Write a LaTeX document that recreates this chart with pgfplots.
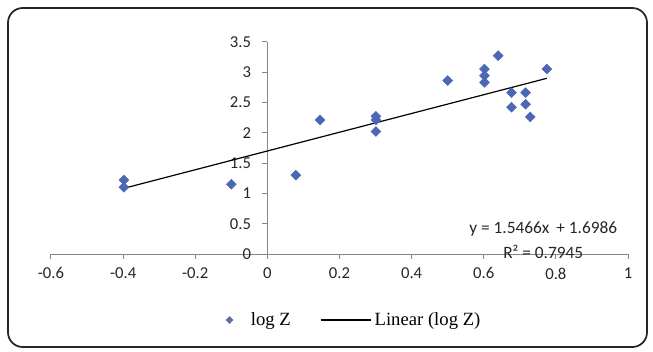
\documentclass[border=0pt]{standalone}
\usepackage{pgfplots}
\pgfplotsset{compat=1.18}
\usepackage{fontspec}
\setmainfont{Liberation Serif}
\newfontfamily\calfont{Carlito}
\definecolor{ptcol}{RGB}{76,104,180}
\definecolor{axgray}{RGB}{134,134,134}
\begin{document}
\begin{tikzpicture}
\path[use as bounding box] (0pt,0pt) rectangle (489.75pt,263.25pt);
\draw[line width=1.3pt, rounded corners=11pt, black!85] (6pt,3pt) rectangle (485.25pt,257.25pt);
\begin{axis}[
  at={(38.25pt,72.75pt)}, anchor=south west,
  scale only axis, width=432.75pt, height=159.2pt,
  xmin=-0.6, xmax=1, ymin=0, ymax=3.5,
  axis lines=middle,
  axis line style={-, axgray, line width=0.75pt},
  hide obscured x ticks=false, hide obscured y ticks=false,
  xtick={-0.6,-0.4,-0.2,0,0.2,0.4,0.6,0.8,1},
  ytick={0,0.5,1,1.5,2,2.5,3,3.5},
  tick align=outside,
  major tick length=3.75pt,
  tick style={axgray, line width=0.75pt},
  /pgf/number format/assume math mode=true,
  ticklabel style={font=\calfont\fontsize{12.5}{14}\selectfont, text=black!85},
  xticklabel style={yshift=-3pt},
  yticklabel style={xshift=-5pt},
  legend style={draw=none, fill=none, at={(0.521,-0.311)}, anchor=center,
    legend columns=2, font=\fontsize{14}{16}\selectfont,
    /tikz/every even column/.append style={column sep=20pt}},
  clip=false,
]
\addplot[only marks, mark=square*, mark size=2.6pt, mark options={rotate=45, fill=ptcol, draw=ptcol}, color=ptcol,
  legend image code/.code={\path[draw=none, fill=none] (-7pt,0pt) -- (14pt,0pt); \fill[ptcol!70!gray, rotate=45] (-1.8pt,-1.8pt) rectangle (1.8pt,1.8pt);}] coordinates {
(-0.398,1.22) (-0.398,1.10) (-0.100,1.15) (0.079,1.30) (0.146,2.21)
(0.301,2.27) (0.301,2.21) (0.301,2.02) (0.500,2.86)
(0.602,3.05) (0.602,2.94) (0.602,2.83) (0.640,3.27)
(0.677,2.66) (0.677,2.42) (0.716,2.66) (0.716,2.47) (0.729,2.26) (0.775,3.05)
};
\addlegendentry{log Z}
\addplot[black, line width=0.9pt, legend image code/.code={\draw[black, line width=0.9pt] (0pt,0pt) -- (38pt,0pt);}] coordinates {(-0.4,1.07996) (0.775,2.89722)};
\addlegendentry{Linear (log Z)}
\node[font=\calfont\fontsize{13}{15}\selectfont, text=black!85] at (axis cs:0.765,0.41) {y = 1.5466x\, + 1.6986};
\node[font=\calfont\fontsize{13}{15}\selectfont, text=black!85] at (axis cs:0.765,0.04) {R² = 0.7945};
\end{axis}
\end{tikzpicture}
\end{document}
